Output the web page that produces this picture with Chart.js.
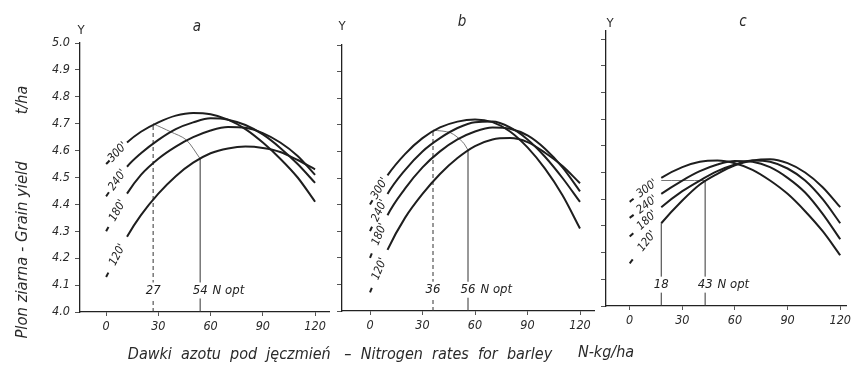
<!DOCTYPE html>
<html>
<head>
<meta charset="utf-8">
<script src="https://cdn.jsdelivr.net/npm/chart.js@4.4.0/dist/chart.umd.min.js"></script>
<style>
  body { margin: 0; background: #fff; }
  #wrap { position: relative; width: 854px; height: 368px; overflow: hidden; }
  canvas { position: absolute; left: 0; top: 0; }
  .t { position: absolute; transform: translate(-50%, -50%); white-space: pre; color: #2a2a2a;
       font-family: 'Liberation Sans Narrow', 'DejaVu Sans Condensed', 'Liberation Sans', sans-serif; font-style: italic; }
  .up { font-style: normal; }
</style>
</head>
<body>
<div id="wrap">
  <canvas id="pa" width="854" height="368"></canvas>
  <canvas id="pb" width="854" height="368"></canvas>
  <canvas id="pc" width="854" height="368"></canvas>

  <div class="t" style="left:197px;top:26px;font-size:15px;">a</div>
  <div class="t" style="left:462px;top:21px;font-size:15px;">b</div>
  <div class="t" style="left:743px;top:21px;font-size:15px;">c</div>
  <div class="t up" style="left:81px;top:29px;font-size:13px;">Y</div>
  <div class="t up" style="left:342px;top:25px;font-size:13px;">Y</div>
  <div class="t up" style="left:610px;top:22px;font-size:13px;">Y</div>

  <div class="t" style="left:21px;top:250px;font-size:16.5px;transform:translate(-50%,-50%) rotate(-90deg);">Plon ziarna - Grain yield</div>
  <div class="t" style="left:21px;top:100px;font-size:16px;transform:translate(-50%,-50%) rotate(-90deg);">t/ha</div>
  <div class="t" style="left:340px;top:353px;font-size:16px;">Dawki  azotu  pod  jęczmień   –  Nitrogen  rates  for  barley</div>
  <div class="t" style="left:606px;top:351px;font-size:16px;">N-kg/ha</div>
</div>

<script>
const FONT = "'Liberation Sans Narrow', 'DejaVu Sans Condensed', 'Liberation Sans', sans-serif";
Chart.defaults.font.family = FONT;
Chart.defaults.font.style = 'italic';
Chart.defaults.color = '#2a2a2a';

// shared labels and ticks
const densities = ["300'", "240'", "180'", "120'"];
const xTicks = [0, 30, 60, 90, 120];
const yTicks = [4.0, 4.1, 4.2, 4.3, 4.4, 4.5, 4.6, 4.7, 4.8, 4.9, 5.0];

// panel a
const aRates = [0, 12, 20, 30, 40, 50, 60, 70, 80, 90, 100, 110, 120];
const a300 = [4.55, 4.63, 4.67, 4.705, 4.73, 4.74, 4.735, 4.715, 4.68, 4.63, 4.57, 4.50, 4.41];
const a240 = [4.43, 4.54, 4.59, 4.64, 4.68, 4.705, 4.72, 4.715, 4.695, 4.66, 4.61, 4.55, 4.48];
const a180 = [4.30, 4.44, 4.51, 4.57, 4.615, 4.65, 4.675, 4.688, 4.685, 4.665, 4.63, 4.58, 4.51];
const a120 = [4.13, 4.28, 4.36, 4.44, 4.505, 4.555, 4.59, 4.608, 4.615, 4.61, 4.595, 4.565, 4.53];
const aOpt = [27, 54];
const aOptTop = [4.70, 4.57];
const aLocusN = [27, 37, 46, 54];
const aLocusY = [4.70, 4.67, 4.64, 4.57];

// panel b
const bRates = [0, 10, 20, 30, 40, 50, 60, 70, 80, 90, 100, 110, 120];
const b300 = [4.40, 4.51, 4.59, 4.65, 4.69, 4.712, 4.72, 4.71, 4.675, 4.615, 4.535, 4.435, 4.31];
const b240 = [4.30, 4.44, 4.53, 4.60, 4.65, 4.688, 4.71, 4.712, 4.69, 4.645, 4.58, 4.50, 4.41];
const b180 = [4.20, 4.36, 4.46, 4.54, 4.60, 4.645, 4.675, 4.69, 4.685, 4.66, 4.61, 4.54, 4.45];
const b120 = [4.07, 4.23, 4.35, 4.44, 4.515, 4.575, 4.62, 4.645, 4.65, 4.635, 4.595, 4.545, 4.48];
const bOpt = [36, 56];
const bOptTop = [4.68, 4.605];
const bLocusN = [36, 46, 53, 56];
const bLocusY = [4.68, 4.67, 4.635, 4.605];

// panel c
const cRates = [0, 18, 30, 40, 50, 60, 70, 80, 90, 100, 110, 120];
const c300 = [4.39, 4.48, 4.52, 4.54, 4.545, 4.535, 4.51, 4.47, 4.42, 4.355, 4.28, 4.19];
const c240 = [4.33, 4.42, 4.47, 4.505, 4.53, 4.543, 4.54, 4.52, 4.48, 4.425, 4.345, 4.25];
const c180 = [4.26, 4.37, 4.43, 4.47, 4.505, 4.53, 4.545, 4.54, 4.515, 4.47, 4.40, 4.31];
const c120 = [4.16, 4.31, 4.395, 4.455, 4.495, 4.527, 4.545, 4.55, 4.535, 4.50, 4.445, 4.37];
const cOpt = [18, 43];
const cOptTop = [4.31, 4.47];
const cLocusN = [18, 43];
const cLocusY = [4.47, 4.47];

const ink = '#1e1e1e';

function pts(xs, ys) {
  return xs.map((v, i) => ({ x: v, y: ys[i] }));
}

// curve labels, N opt numbers
function notes(p) {
  return {
    id: 'notes',
    afterDatasetsDraw(chart) {
      const ctx = chart.ctx;
      const sx = chart.scales.x, sy = chart.scales.y;
      ctx.save();
      ctx.textAlign = 'center';
      ctx.textBaseline = 'middle';
      p.curves.forEach((vals, i) => {
        const x0 = sx.getPixelForValue(p.rates[0]), y0 = sy.getPixelForValue(vals[0]);
        const x1 = sx.getPixelForValue(p.rates[1]), y1 = sy.getPixelForValue(vals[1]);
        const ang = Math.atan2(y1 - y0, x1 - x0);
        const cx = x0 + (x1 - x0) * 0.55, cy = y0 + (y1 - y0) * 0.55;
        ctx.save();
        ctx.translate(cx, cy);
        ctx.rotate(ang);
        ctx.font = 'italic 11.5px ' + FONT;
        ctx.fillStyle = '#222';
        ctx.fillText(densities[i], 0, 0);
        ctx.restore();
      });
      ctx.font = 'italic 13px ' + FONT;
      p.opt.forEach((n, i) => {
        const px = sx.getPixelForValue(n), py = sy.getPixelForValue(4.08);
        const s = String(n);
        const w = ctx.measureText(s).width;
        ctx.fillStyle = '#fff';
        ctx.fillRect(px - w / 2 - 2, py - 8, w + 4, 16);
        ctx.fillStyle = '#222';
        ctx.textAlign = 'center';
        ctx.fillText(s, px, py);
        if (i === 1) {
          ctx.textAlign = 'left';
          ctx.fillText('N opt', px + w / 2 + 5, py);
        }
      });
      ctx.restore();
    }
  };
}

function panel(id, p) {
  const datasets = p.curves.map(vals => ({
    data: pts(p.rates, vals),
    borderColor: ink,
    borderWidth: 2,
    pointRadius: 0,
    cubicInterpolationMode: 'monotone',
    segment: { borderDash: c => c.p0DataIndex === 0 ? [5, 300] : undefined }
  }));
  p.opt.forEach((n, i) => datasets.push({
    data: [{ x: n, y: 4.0 }, { x: n, y: p.optTop[i] }],
    borderColor: '#333',
    borderWidth: 1,
    pointRadius: 0,
    borderDash: (i === 0 && p.dashFirst) ? [4, 3] : []
  }));
  datasets.push({
    data: pts(p.locusN, p.locusY),
    borderColor: '#777',
    borderWidth: 1,
    pointRadius: 0,
    tension: 0.3
  });

  new Chart(document.getElementById(id), {
    type: 'line',
    data: { datasets },
    options: {
      responsive: false,
      animation: false,
      events: [],
      layout: { padding: p.pad },
      plugins: { legend: { display: false }, tooltip: { enabled: false } },
      scales: {
        x: {
          type: 'linear',
          min: p.xMin,
          max: p.xMax,
          afterBuildTicks: s => { s.ticks = xTicks.map(v => ({ value: v })); },
          afterFit: s => { s.height = 30; },
          grid: { drawOnChartArea: false, tickLength: 4, color: '#555' },
          border: { color: '#222', width: 1.3 },
          ticks: { font: { size: 12.5, style: 'italic' }, padding: 3, maxRotation: 0 }
        },
        y: {
          type: 'linear',
          min: 4.0,
          max: p.yMax,
          afterBuildTicks: s => { s.ticks = yTicks.map(v => ({ value: v })); },
          afterFit: s => { s.width = p.yW; },
          grid: { drawOnChartArea: false, tickLength: 5, color: '#555' },
          border: { color: '#222', width: 1.3 },
          ticks: { display: p.yLabels, callback: v => v.toFixed(1), padding: 5, font: { size: 12.5, style: 'italic' } }
        }
      }
    },
    plugins: [notes(p)]
  });
}

panel('pa', {
  rates: aRates, curves: [a300, a240, a180, a120],
  opt: aOpt, optTop: aOptTop, locusN: aLocusN, locusY: aLocusY, dashFirst: true,
  xMin: -15, xMax: 128, yMax: 5.0, yW: 40, yLabels: true,
  pad: { left: 40, right: 525, top: 43, bottom: 26 }
});
panel('pb', {
  rates: bRates, curves: [b300, b240, b180, b120],
  opt: bOpt, optTop: bOptTop, locusN: bLocusN, locusY: bLocusY, dashFirst: true,
  xMin: -16, xMax: 128, yMax: 5.0, yW: 10, yLabels: false,
  pad: { left: 332, right: 260, top: 45, bottom: 27 }
});
panel('pc', {
  rates: cRates, curves: [c300, c240, c180, c120],
  opt: cOpt, optTop: cOptTop, locusN: cLocusN, locusY: cLocusY, dashFirst: false,
  xMin: -13.5, xMax: 123.5, yMax: 5.03, yW: 10, yLabels: false,
  pad: { left: 596, right: 2, top: 31, bottom: 32 }
});
</script>
</body>
</html>
